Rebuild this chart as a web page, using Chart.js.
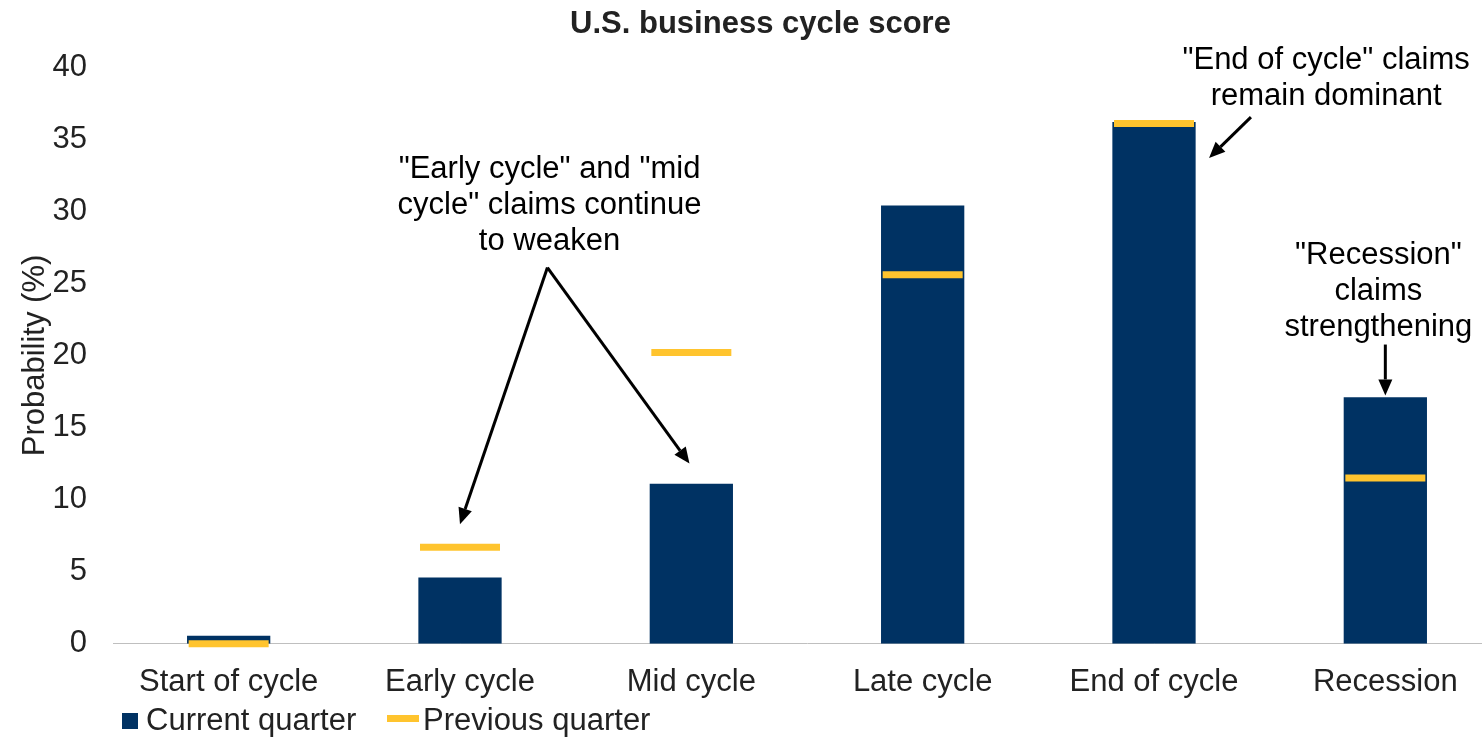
<!DOCTYPE html>
<html>
<head>
<meta charset="utf-8">
<title>U.S. business cycle score</title>
<script src="https://cdn.jsdelivr.net/npm/chart.js@4.4.1/dist/chart.umd.min.js"></script>
<style>
    html, body { margin: 0; padding: 0; background: #fff; overflow: hidden; }
    #wrap { width: 1502px; height: 737px; }
</style>
</head>
<body>
<div id="wrap"><canvas id="cycleChart" width="1502" height="737"></canvas></div>
<script>
const categories = ['Start of cycle', 'Early cycle', 'Mid cycle', 'Late cycle', 'End of cycle', 'Recession'];
const currentQuarter = [0.55, 4.6, 11.1, 30.4, 36.2, 17.1];
const previousQuarter = [0, 6.7, 20.2, 25.6, 36.1, 11.5];
const yTicks = [0, 5, 10, 15, 20, 25, 30, 35, 40];

const NAVY = '#003263';
const GOLD = '#FFC42E';
const TEXT = '#222222';
const FONT = 'Arial, "Liberation Sans", sans-serif';

// callouts, anchored in data units (category index, value)
const notes = [
    { x: 1.387, y: 32.3, lines: ['"Early cycle" and "mid', 'cycle" claims continue', 'to weaken'] },
    { x: 4.744, y: 39.86, lines: ['"End of cycle" claims', 'remain dominant'] },
    { x: 4.97, y: 26.37, lines: ['"Recession"', 'claims', 'strengthening'] }
];
const arrows = [
    { from: [1.378, 26.1], to: [1.0, 8.3] },
    { from: [1.378, 26.1], to: [1.992, 12.5] },
    { from: [4.419, 36.54], to: [4.238, 33.7] },
    { from: [5.0, 20.76], to: [5.0, 17.23] }
];

function drawArrow(ctx, x1, y1, x2, y2) {
    const ang = Math.atan2(y2 - y1, x2 - x1);
    const head = 16, half = 7;
    const bx = x2 - head * Math.cos(ang), by = y2 - head * Math.sin(ang);
    ctx.beginPath();
    ctx.moveTo(x1, y1);
    ctx.lineTo(bx, by);
    ctx.stroke();
    ctx.beginPath();
    ctx.moveTo(x2, y2);
    ctx.lineTo(bx + half * Math.sin(ang), by - half * Math.cos(ang));
    ctx.lineTo(bx - half * Math.sin(ang), by + half * Math.cos(ang));
    ctx.closePath();
    ctx.fill();
}

const calloutPlugin = {
    id: 'callouts',
    afterDraw(chart) {
        const ctx = chart.ctx;
        const xs = chart.scales.x, ys = chart.scales.y;
        ctx.save();
        ctx.fillStyle = '#000';
        ctx.strokeStyle = '#000';
        ctx.lineWidth = 3;
        ctx.font = '31px ' + FONT;
        ctx.textAlign = 'center';
        ctx.textBaseline = 'alphabetic';
        notes.forEach(n => {
            const px = xs.getPixelForValue(n.x);
            const py = ys.getPixelForValue(n.y);
            n.lines.forEach((t, i) => ctx.fillText(t, px, py + i * 36));
        });
        arrows.forEach(a => {
            drawArrow(ctx,
                xs.getPixelForValue(a.from[0]), ys.getPixelForValue(a.from[1]),
                xs.getPixelForValue(a.to[0]), ys.getPixelForValue(a.to[1]));
        });

        // legend
        const left = chart.chartArea.left;
        const base = chart.height - 7;
        ctx.textAlign = 'left';
        ctx.fillStyle = NAVY;
        ctx.fillRect(left + 9, base - 17, 16, 16);
        ctx.fillStyle = TEXT;
        ctx.fillText(chart.data.datasets[1].label, left + 33, base);
        ctx.fillStyle = GOLD;
        ctx.fillRect(left + 274, base - 15, 32, 7);
        ctx.fillStyle = TEXT;
        ctx.fillText(chart.data.datasets[0].label, left + 310, base);
        ctx.restore();
    }
};

const ctx = document.getElementById('cycleChart').getContext('2d');
const cycleChart = new Chart(ctx, {
    data: {
        labels: categories,
        datasets: [{
            type: 'line',
            label: 'Previous quarter',
            data: previousQuarter,
            showLine: false,
            pointStyle: 'line',
            pointRadius: 40,
            pointBorderWidth: 7,
            borderColor: GOLD,
            backgroundColor: GOLD,
            clip: false,
            order: 0
        }, {
            type: 'bar',
            label: 'Current quarter',
            data: currentQuarter,
            backgroundColor: NAVY,
            borderWidth: 0,
            barPercentage: 0.36,
            categoryPercentage: 1,
            order: 1
        }]
    },
    options: {
        responsive: false,
        animation: false,
        layout: { autoPadding: false, padding: { left: 20, right: 1, top: 0, bottom: 16 } },
        plugins: {
            legend: { display: false },
            tooltip: { enabled: false },
            title: {
                display: true,
                text: 'U.S. business cycle score',
                color: TEXT,
                font: { family: FONT, size: 31, weight: 'bold', lineHeight: 1.2 },
                padding: { top: 6, bottom: 24 }
            }
        },
        scales: {
            x: {
                offset: true,
                grid: { display: false, drawTicks: false },
                border: { display: true, color: '#bfbfbf', width: 1 },
                ticks: { color: TEXT, font: { family: FONT, size: 31 }, padding: 20, maxRotation: 0 }
            },
            y: {
                min: 0,
                max: 40,
                afterFit(scale) { scale.width = 93; },
                afterBuildTicks(scale) { scale.ticks = yTicks.map(v => ({ value: v })); },
                grid: { display: false, drawTicks: false },
                border: { display: false },
                ticks: { color: TEXT, font: { family: FONT, size: 31 }, padding: 26 },
                title: {
                    display: true,
                    text: 'Probability (%)',
                    color: TEXT,
                    font: { family: FONT, size: 31, lineHeight: 1 },
                    padding: { top: 0, bottom: 0 }
                }
            }
        }
    },
    plugins: [calloutPlugin]
});
</script>
</body>
</html>
